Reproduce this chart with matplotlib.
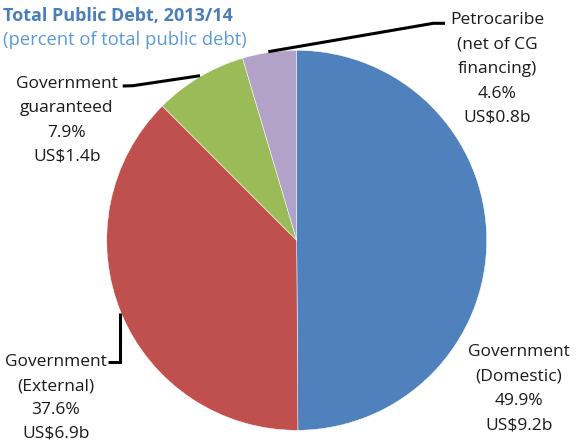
import matplotlib
matplotlib.use("Agg")
import matplotlib.pyplot as plt

plt.rcParams['font.family'] = ['Open Sans', 'DejaVu Sans']

# debt composition, 2013/14
names = [['Government', '(Domestic)'], ['Government', '(External)'],
         ['Government', 'guaranteed'], ['Petrocaribe', '(net of CG', 'financing)']]
shares = [49.9, 37.6, 7.9, 4.6]
amounts = [9.2, 6.9, 1.4, 0.8]
colors = ['#4F81BD', '#C0504D', '#9BBB59', '#B3A2C7']

W, H = 577, 443
fig = plt.figure(figsize=(W / 100, H / 100), dpi=100)
ax = fig.add_axes([0, 0, 1, 1])

# pixel-like coordinates, y measured from the top
def Y(y):
    return H - y

cx, cy, r = 296.7, 240.3, 190
ax.pie(shares, colors=colors, startangle=90, counterclock=False,
       center=(cx, Y(cy)), radius=r,
       wedgeprops=dict(edgecolor='white', linewidth=0.35))
ax.set_xlim(0, W)
ax.set_ylim(0, H)
ax.set_aspect('equal')
ax.axis('off')

fs = 12.5
step = 24.4
label_pos = [(519, 350), (56, 360.5), (67, 81.7), (497, 18.3)]
steps = [step, 23.6, step, step]
for name, pct, amt, (x, y), st in zip(names, shares, amounts, label_pos, steps):
    lines = name + [f"{pct:.1f}%", f"US${amt:.1f}b"]
    for i, s in enumerate(lines):
        ax.text(x, Y(y + i * st), s, ha='center', va='center_baseline',
                fontsize=fs, color='#1a1a1a')

# leader lines
lk = dict(color='black', lw=2.2, solid_capstyle='butt', solid_joinstyle='miter')
ax.plot([268.3, 433.3, 445], [Y(51.7), Y(23.3), Y(23.3)], **lk)
ax.plot([122.7, 133, 200], [Y(86), Y(85.7), Y(75.7)], **lk)
ax.plot([108, 120, 120], [Y(362.3), Y(362.3), Y(313.3)], **lk)

ax.text(3, Y(16), 'Total Public Debt, 2013/14', ha='left', va='center',
        fontsize=13, fontweight='bold', color='#4A7EBA')
ax.text(3, Y(40), '(percent of total public debt)', ha='left', va='center',
        fontsize=13.2, color='#5B9BD5')

fig.savefig('out.png', dpi=100)
